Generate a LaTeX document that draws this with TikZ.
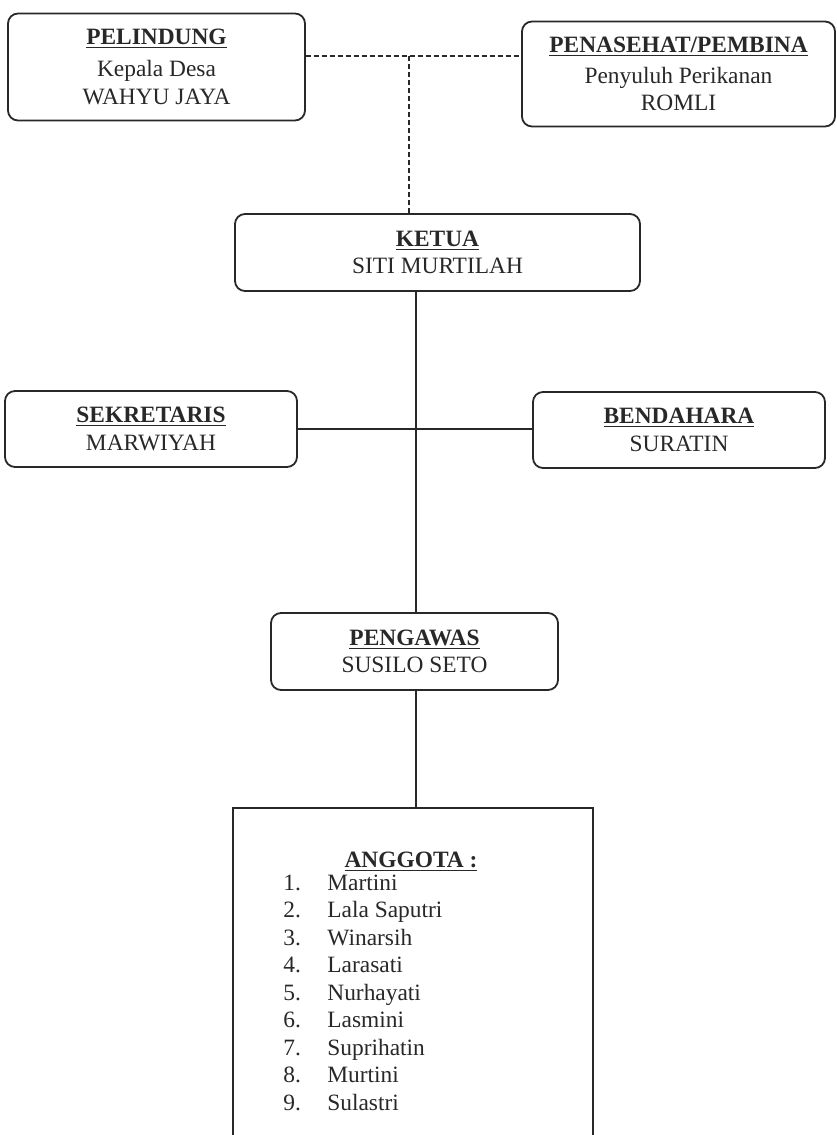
\documentclass[tikz,border=0pt]{standalone}
\usepackage{fontspec}
\setmainfont{Liberation Serif}
\usepackage{tikz}
\definecolor{tinta}{RGB}{40,40,40}
\newcommand{\judul}[1]{\textbf{\underline{#1}}}
\tikzset{
	kotak/.style={
		draw=tinta,
		rounded corners=5pt,
		align=center,
		inner sep=2pt,
		line width=0.9pt,
		text=tinta,
		font=\fontsize{11.7}{13.75}\selectfont
	},
	kotaklist/.style={draw=tinta, line width=0.9pt},
	teks/.style={text=tinta, inner sep=0pt, font=\fontsize{11.7}{13.75}\selectfont},
	garis/.style={draw=tinta, line width=0.7pt},
	garisputus/.style={draw=tinta, line width=0.7pt, dash pattern=on 2.5pt off 1.5pt}
}

\begin{document}
\begin{tikzpicture}[x=0.5pt, y=-0.5pt]
		\useasboundingbox (0,0) rectangle (836,1135);
		% pelindung dan penasehat
		\node[kotak, minimum width=148.5pt, minimum height=53.5pt] (pel) at (156.5,67) {%
			\judul{PELINDUNG}\\[2pt]
			Kepala Desa\\[0.5pt]
			WAHYU JAYA};
		\node[kotak, minimum width=156.5pt, minimum height=52.5pt] (pen) at (678.5,74) {%
			\judul{PENASEHAT/PEMBINA}\\[1.5pt]
			Penyuluh Perikanan\\
			ROMLI};
		% pengurus
		\node[kotak, minimum width=202.5pt, minimum height=38.5pt] (ketua) at (437.5,252.5) {%
			\judul{KETUA}\\
			SITI MURTILAH};
		\node[kotak, minimum width=146pt, minimum height=38pt] (sek) at (151,429) {%
			\judul{SEKRETARIS}\\
			MARWIYAH};
		\node[kotak, minimum width=146pt, minimum height=38pt] (bend) at (679,430) {%
			\judul{BENDAHARA}\\
			SURATIN};
		\node[kotak, minimum width=143.5pt, minimum height=38.5pt] (pengawas) at (414.5,651.5) {%
			\judul{PENGAWAS}\\
			SUSILO SETO};
		% anggota
		\node[kotaklist, minimum width=180pt, minimum height=165pt] (anggota) at (413,973) {};
		\node[teks, anchor=base] (judulanggota) at (411,867) {\judul{ANGGOTA :}};
		\node[teks, anchor=base west] (daftar) at (283,890) {%
			\begin{tabular}[t]{@{}p{22pt}@{}l@{}}
				1. & Martini\\
				2. & Lala Saputri\\
				3. & Winarsih\\
				4. & Larasati\\
				5. & Nurhayati\\
				6. & Lasmini\\
				7. & Suprihatin\\
				8. & Murtini\\
				9. & Sulastri
			\end{tabular}};
		% garis penghubung
		\coordinate (simpul) at (409,56);
		\coordinate (poros) at (416,429);
		\draw[garisputus] (pel.east |- simpul) -- (pen.west |- simpul);
		\draw[garisputus] (simpul) -- (simpul |- ketua.north);
		\draw[garis] (poros |- ketua.south) -- (poros |- pengawas.north);
		\draw[garis] (sek.east) -- (sek.east -| bend.west);
		\draw[garis] (poros |- pengawas.south) -- (poros |- anggota.north);
	\end{tikzpicture}
\end{document}
